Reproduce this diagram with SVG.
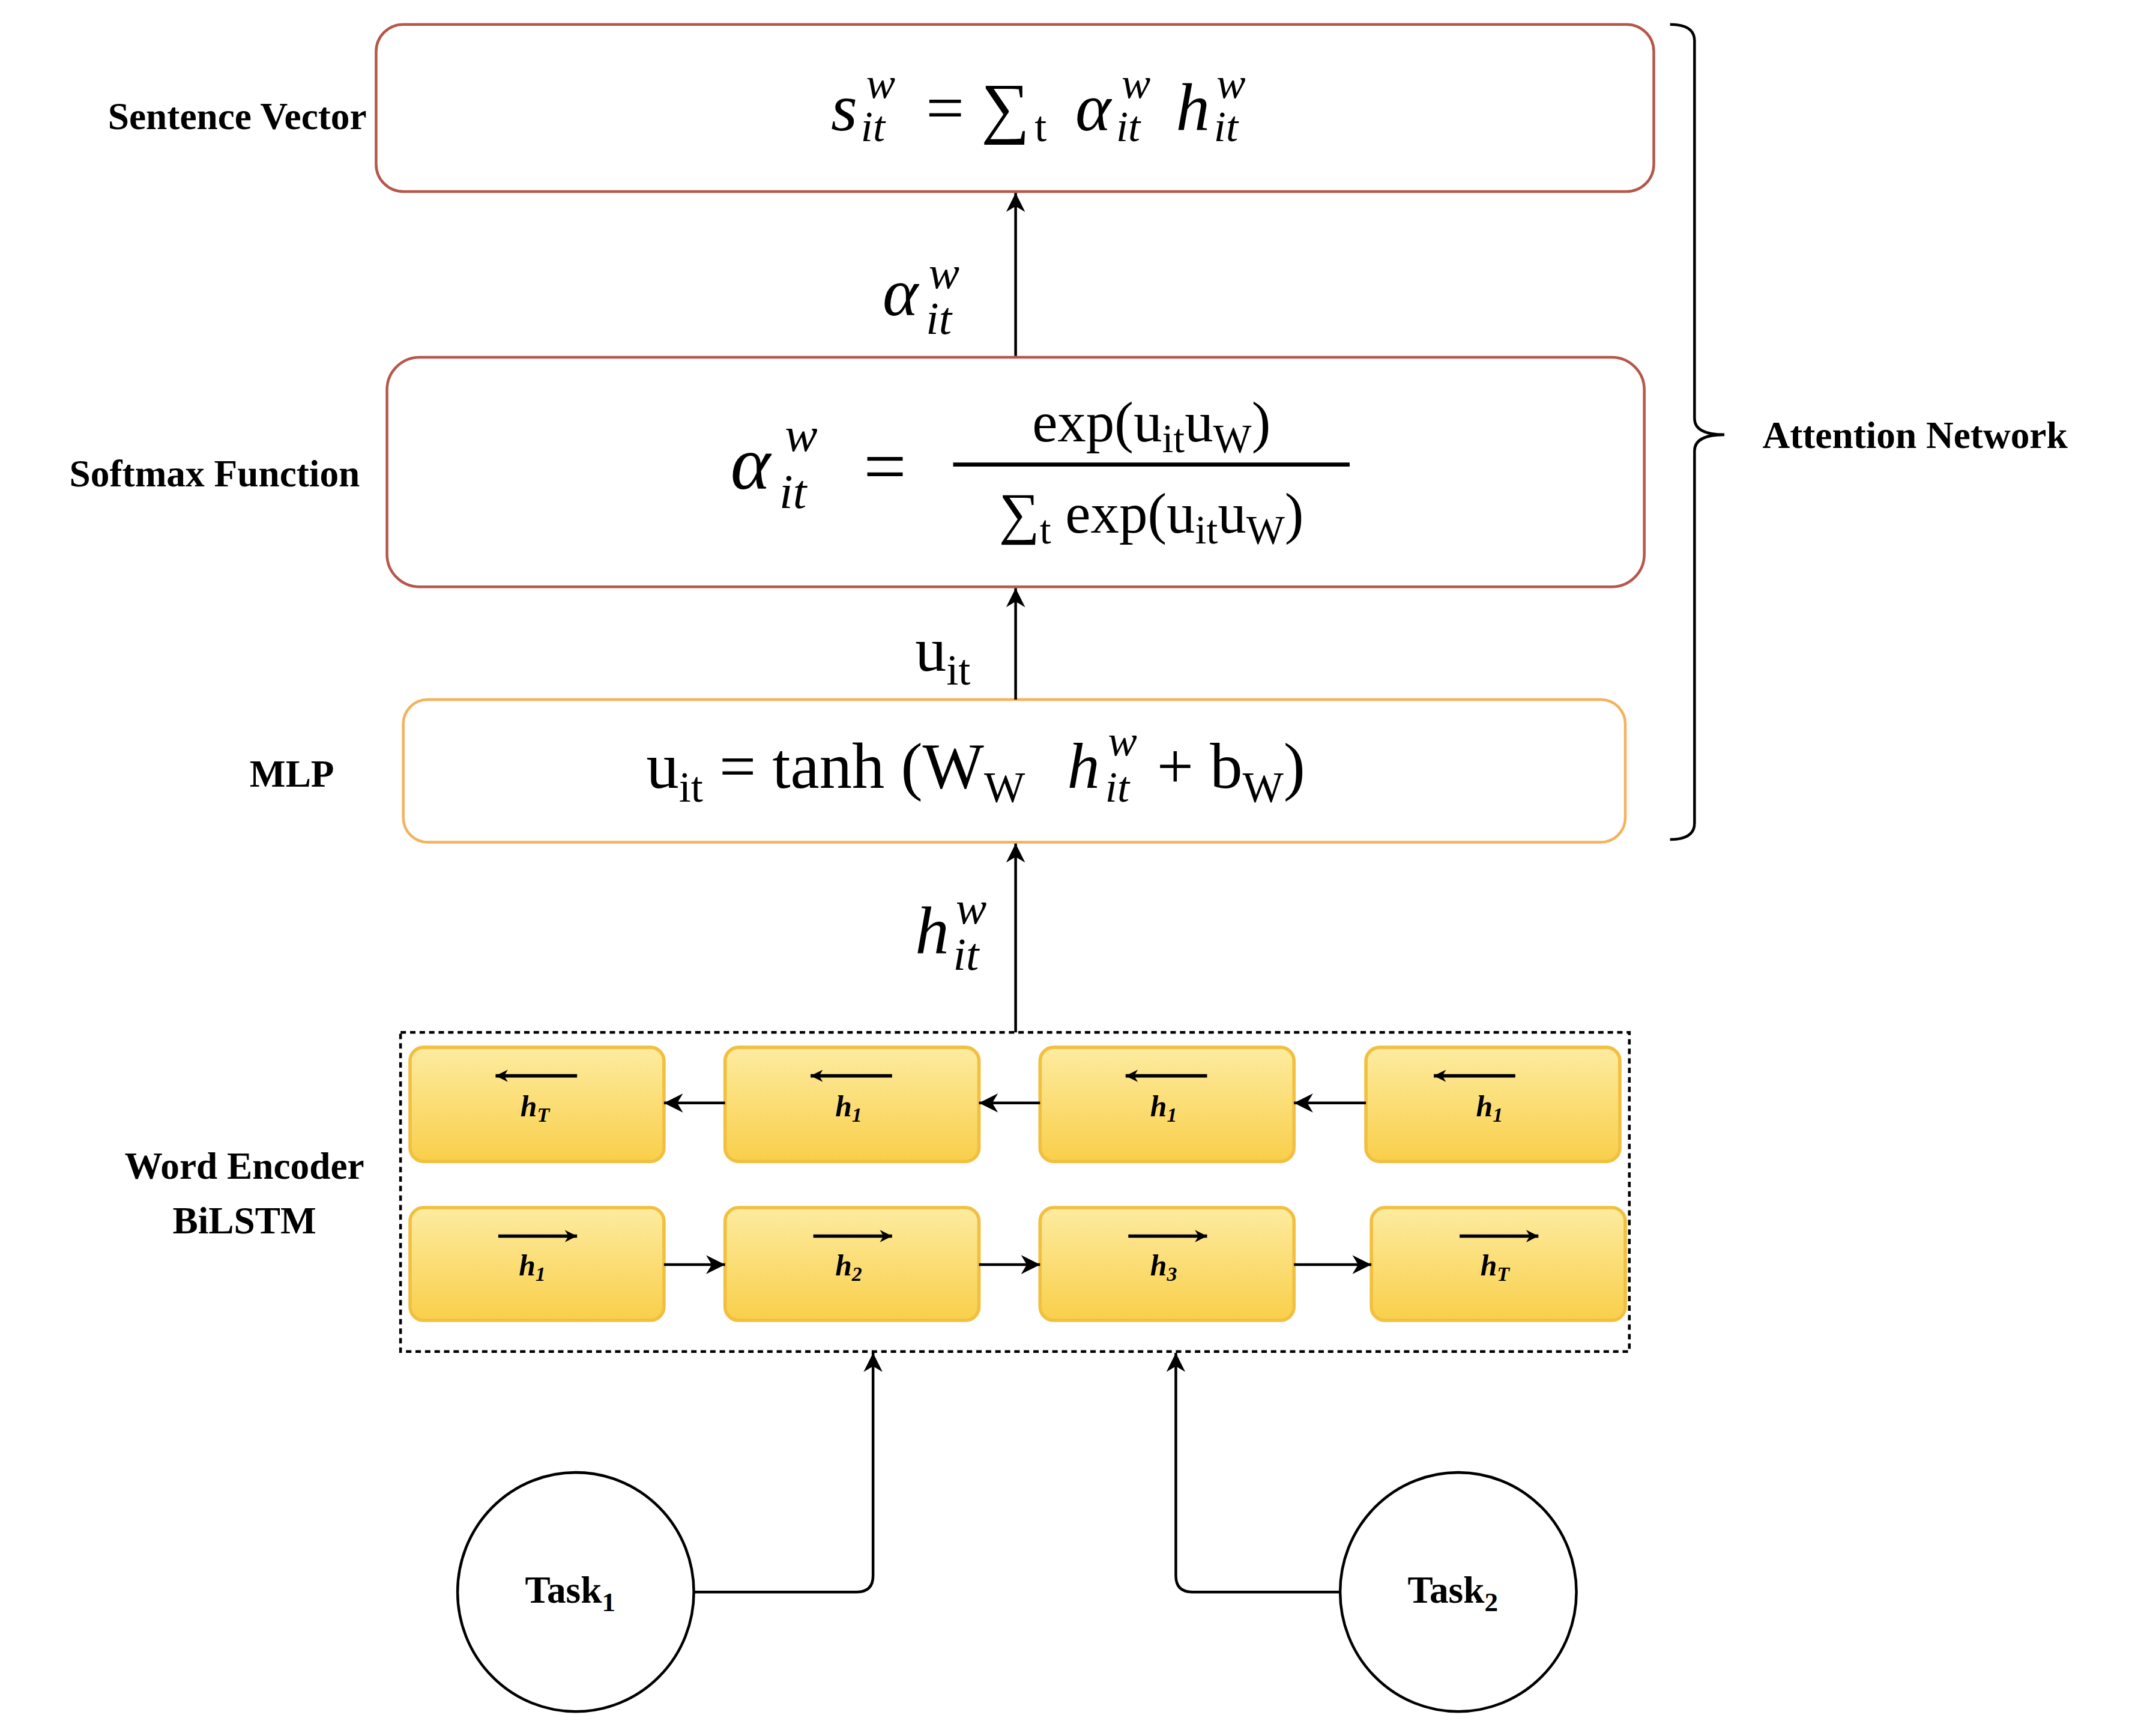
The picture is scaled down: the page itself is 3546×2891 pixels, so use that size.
<svg xmlns="http://www.w3.org/2000/svg" width="3546" height="2891" viewBox="0 0 3546 2891">
<defs>
<marker id="ah" viewBox="0 0 10 10" refX="10" refY="5" markerWidth="9" markerHeight="9" orient="auto" markerUnits="userSpaceOnUse"><path d="M0,0 L10,5 L0,10 L3,5 z" fill="#000"/></marker>
<marker id="ah2" viewBox="0 0 10 10" refX="10" refY="5" markerWidth="14" markerHeight="14" orient="auto" markerUnits="userSpaceOnUse"><path d="M0,0 L10,5 L0,10 L3,5 z" fill="#000"/></marker>
<linearGradient id="yg" x1="0" y1="0" x2="0" y2="1"><stop offset="0" stop-color="#fdeba0"/><stop offset="1" stop-color="#f9cf4a"/></linearGradient>
</defs>
<style>
.lbl{font-family:"Liberation Serif",serif;font-weight:bold;font-size:28px;fill:#000}
.m{font-family:"Liberation Serif",serif;fill:#000}
.mi{font-family:"Liberation Serif",serif;font-style:italic;fill:#000}
.cell{fill:url(#yg);stroke:#f2c040;stroke-width:2.5}
.ln{stroke:#000;stroke-width:2;fill:none}
.ct{font-family:"Liberation Serif",serif;font-style:italic;font-weight:bold;font-size:22px}
</style>
<rect width="3546" height="2891" fill="#fff"/>
<g transform="scale(2.2615,2.2621)">
<g id="sentence">
<rect x="277" y="18" width="941" height="123" rx="20" fill="#fff" stroke="#b5574a" stroke-width="2"/>
<text class="mi" x="612" y="96" font-size="50">s</text>
<text class="mi" x="638" y="72" font-size="32">w</text>
<text class="mi" x="634" y="104" font-size="32">it</text>
<text class="m" x="682" y="96" font-size="50">= ∑</text>
<text class="m" x="762" y="104" font-size="32">t</text>
<text class="mi" x="792" y="96" font-size="50">α</text>
<text class="mi" x="826" y="72" font-size="32">w</text>
<text class="mi" x="822" y="104" font-size="32">it</text>
<text class="mi" x="866" y="96" font-size="50">h</text>
<text class="mi" x="896" y="72" font-size="32">w</text>
<text class="mi" x="894" y="104" font-size="32">it</text>
<text class="lbl" x="270" y="95" text-anchor="end">Sentence Vector</text>
</g>
<g id="softmax">
<rect x="285" y="263" width="926" height="169" rx="24" fill="#fff" stroke="#b5574a" stroke-width="2"/>
<text class="mi" x="538" y="360" font-size="56">α</text>
<text class="mi" x="578" y="332" font-size="36">w</text>
<text class="mi" x="574" y="374" font-size="36">it</text>
<text class="m" x="636" y="362" font-size="56">=</text>
<text class="m" x="848" y="325" font-size="42" text-anchor="middle">exp(u<tspan font-size="30" dy="8">it</tspan><tspan dy="-8">u</tspan><tspan font-size="30" dy="8">W</tspan><tspan dy="-8">)</tspan></text>
<line x1="702" y1="342" x2="994" y2="342" stroke="#000" stroke-width="3"/>
<text class="m" x="848" y="392" font-size="42" text-anchor="middle">∑<tspan font-size="30" dy="8">t</tspan><tspan dy="-8"> exp(u</tspan><tspan font-size="30" dy="8">it</tspan><tspan dy="-8">u</tspan><tspan font-size="30" dy="8">W</tspan><tspan dy="-8">)</tspan></text>
<text class="lbl" x="265" y="358" text-anchor="end">Softmax Function</text>
</g>
<g id="mlp">
<rect x="297" y="515" width="900" height="105" rx="18" fill="#fff" stroke="#f4b25e" stroke-width="2"/>
<text class="m" x="476" y="580" font-size="48">u<tspan font-size="32" dy="10">it</tspan><tspan dy="-10"> = tanh (W</tspan><tspan font-size="32" dy="10">W</tspan></text>
<text class="mi" x="786" y="580" font-size="48">h</text>
<text class="mi" x="816" y="556" font-size="32">w</text>
<text class="mi" x="814" y="590" font-size="32">it</text>
<text class="m" x="852" y="580" font-size="48">+ b<tspan font-size="32" dy="10">W</tspan><tspan dy="-10">)</tspan></text>
<text class="lbl" x="215" y="579" text-anchor="middle">MLP</text>
</g>
<g id="brace">
<path class="ln" d="M1230,18 Q1248,18 1248,30 L1248,308 Q1248,320 1270,320 Q1248,320 1248,332 L1248,606 Q1248,618 1230,618" stroke-width="1.8"/>
<text class="lbl" x="1298" y="330">Attention Network</text>
</g>
<g id="encoder">
<rect x="295" y="760" width="905" height="235" fill="none" stroke="#000" stroke-width="2" stroke-dasharray="4,3"/>
<text class="lbl" x="180" y="868" text-anchor="middle">Word Encoder</text>
<text class="lbl" x="180" y="908" text-anchor="middle">BiLSTM</text>
<g id="b1"><rect class="cell" x="302" y="771" width="187" height="84" rx="10"/><text class="ct" x="394" y="822" text-anchor="middle">h<tspan font-size="15" dy="4">T</tspan></text></g>
<g id="b2"><rect class="cell" x="534" y="771" width="187" height="84" rx="10"/><text class="ct" x="625" y="822" text-anchor="middle">h<tspan font-size="15" dy="4">1</tspan></text></g>
<g id="b3"><rect class="cell" x="766" y="771" width="187" height="84" rx="10"/><text class="ct" x="857" y="822" text-anchor="middle">h<tspan font-size="15" dy="4">1</tspan></text></g>
<g id="b4"><rect class="cell" x="1006" y="771" width="187" height="84" rx="10"/><text class="ct" x="1097" y="822" text-anchor="middle">h<tspan font-size="15" dy="4">1</tspan></text></g>
<g id="f1"><rect class="cell" x="302" y="889" width="187" height="83" rx="10"/><text class="ct" x="392" y="939" text-anchor="middle">h<tspan font-size="15" dy="4">1</tspan></text></g>
<g id="f2"><rect class="cell" x="534" y="889" width="187" height="83" rx="10"/><text class="ct" x="625" y="939" text-anchor="middle">h<tspan font-size="15" dy="4">2</tspan></text></g>
<g id="f3"><rect class="cell" x="766" y="889" width="187" height="83" rx="10"/><text class="ct" x="857" y="939" text-anchor="middle">h<tspan font-size="15" dy="4">3</tspan></text></g>
<g id="f4"><rect class="cell" x="1010" y="889" width="187" height="83" rx="10"/><text class="ct" x="1101" y="939" text-anchor="middle">h<tspan font-size="15" dy="4">T</tspan></text></g>
<g stroke="#000" stroke-width="2.5">
<line x1="425" y1="792" x2="365" y2="792" marker-end="url(#ah)"/>
<line x1="657" y1="792" x2="597" y2="792" marker-end="url(#ah)"/>
<line x1="889" y1="792" x2="829" y2="792" marker-end="url(#ah)"/>
<line x1="1116" y1="792" x2="1056" y2="792" marker-end="url(#ah)"/>
<line x1="367" y1="910" x2="425" y2="910" marker-end="url(#ah)"/>
<line x1="599" y1="910" x2="657" y2="910" marker-end="url(#ah)"/>
<line x1="831" y1="910" x2="889" y2="910" marker-end="url(#ah)"/>
<line x1="1075" y1="910" x2="1133" y2="910" marker-end="url(#ah)"/>
</g>
</g>
<g id="task1"><ellipse cx="424" cy="1172" rx="87" ry="88" fill="#fff" stroke="#000" stroke-width="2"/><text class="lbl" x="420" y="1180" text-anchor="middle" font-size="30">Task<tspan font-size="20" dy="6">1</tspan></text></g>
<g id="task2"><ellipse cx="1074" cy="1172" rx="87" ry="88" fill="#fff" stroke="#000" stroke-width="2"/><text class="lbl" x="1070" y="1180" text-anchor="middle" font-size="30">Task<tspan font-size="20" dy="6">2</tspan></text></g>
<g id="connectors">
<line class="ln" x1="748" y1="262" x2="748" y2="142" marker-end="url(#ah2)"/>
<line class="ln" x1="748" y1="515" x2="748" y2="433" marker-end="url(#ah2)"/>
<line class="ln" x1="748" y1="760" x2="748" y2="621" marker-end="url(#ah2)"/>
<line class="ln" x1="534" y1="812" x2="489" y2="812" stroke-width="2.5" marker-end="url(#ah2)"/>
<line class="ln" x1="766" y1="812" x2="721" y2="812" stroke-width="2.5" marker-end="url(#ah2)"/>
<line class="ln" x1="1006" y1="812" x2="953" y2="812" stroke-width="2.5" marker-end="url(#ah2)"/>
<line class="ln" x1="489" y1="931" x2="534" y2="931" stroke-width="2.5" marker-end="url(#ah2)"/>
<line class="ln" x1="721" y1="931" x2="766" y2="931" stroke-width="2.5" marker-end="url(#ah2)"/>
<line class="ln" x1="953" y1="931" x2="1010" y2="931" stroke-width="2.5" marker-end="url(#ah2)"/>
<path class="ln" d="M511,1172 L631,1172 Q643,1172 643,1160 L643,996" marker-end="url(#ah2)"/>
<path class="ln" d="M987,1172 L878,1172 Q866,1172 866,1160 L866,996" marker-end="url(#ah2)"/>
</g>
<g id="edge-labels">
<text class="mi" x="650" y="232" font-size="50">α</text>
<text class="mi" x="684" y="212" font-size="34">w</text>
<text class="mi" x="682" y="246" font-size="34">it</text>
<text class="m" x="674" y="494" font-size="46">u<tspan font-size="32" dy="10">it</tspan></text>
<text class="mi" x="674" y="702" font-size="50">h</text>
<text class="mi" x="704" y="680" font-size="34">w</text>
<text class="mi" x="702" y="714" font-size="34">it</text>
</g>
</g>
</svg>
